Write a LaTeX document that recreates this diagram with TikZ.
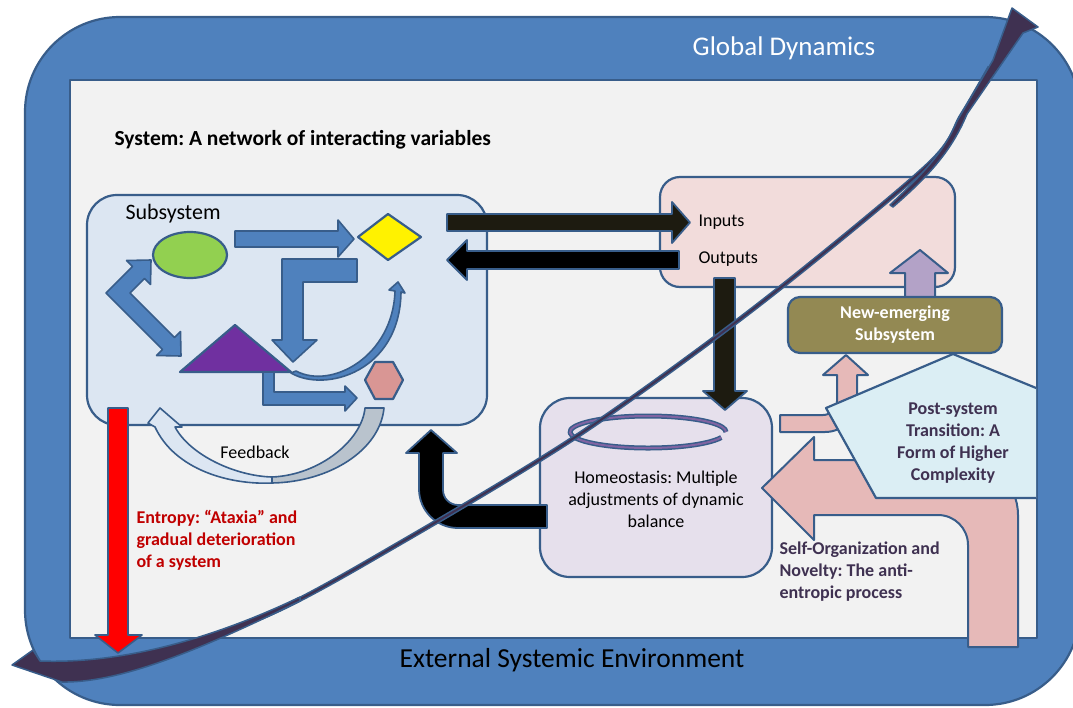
\documentclass[tikz,border=0pt]{standalone}
\usepackage{fontspec}
\setmainfont{Carlito}
\usetikzlibrary{arrows}
\frenchspacing
\definecolor{ringblue}{HTML}{4F81BD}
\definecolor{edgeblue}{HTML}{385D8A}
\definecolor{panel}{HTML}{F2F2F2}
\definecolor{subfill}{HTML}{DCE6F2}
\definecolor{iofill}{HTML}{F2DCDB}
\definecolor{homfill}{HTML}{E6E0EC}
\definecolor{olivebox}{HTML}{938953}
\definecolor{pentfill}{HTML}{DBEEF4}
\definecolor{rose}{HTML}{E6B9B8}
\definecolor{lilac}{HTML}{B3A2C7}
\definecolor{leaf}{HTML}{92D050}
\definecolor{grape}{HTML}{7030A0}
\definecolor{hexpink}{HTML}{D99694}
\definecolor{darkink}{HTML}{1D1B10}
\definecolor{plum}{HTML}{3F3151}
\definecolor{entred}{HTML}{C00000}
\definecolor{fbgrey}{HTML}{B9C3CD}
\definecolor{swoosh}{HTML}{8064A2}

\begin{document}
\begin{tikzpicture}[x=1pt,y=-1pt,line join=round,
  frame/.style={draw=edgeblue,line width=2.2pt},
  blockarrow/.style={fill=ringblue,draw=edgeblue,line width=1.6pt},
  inkarrow/.style={fill=darkink,draw=edgeblue,line width=1.8pt},
  rosearrow/.style={fill=rose,draw=edgeblue,line width=2pt},
  label/.style={font=\fontsize{18}{22}\selectfont,align=center},
  boldlabel/.style={font=\bfseries\fontsize{18}{22}\selectfont,align=center}]
        \useasboundingbox (0,0) rectangle (1073,707);
        \clip (0,0) rectangle (1073,707);
        % environment
        \draw[frame,fill=ringblue,rounded corners=95pt] (25,17) rectangle (1080,705);
        \draw[frame,fill=panel] (70,80) rectangle (1037,638);
        \node[text=white,font=\fontsize{27}{31}\selectfont] (global) at (784,48) {Global Dynamics};
        \node[font=\fontsize{27.5}{32}\selectfont] (external) at (572,660) {External Systemic Environment};
        \node[anchor=west,font=\bfseries\fontsize{21.5}{25}\selectfont] (system) at (111,140) {System: A network of interacting variables};
        % subsystem
        \draw[frame,fill=subfill,rounded corners=30pt] (87,195) rectangle (487,425);
        \node[anchor=west,font=\fontsize{22}{26}\selectfont] (subsys) at (122,214) {Subsystem};
        \draw[frame,fill=leaf] (190,255) ellipse [x radius=37,y radius=23];
        \draw[frame,fill=yellow] (358,237) -- (388,214) -- (421,237) -- (388,260) -- cycle;
        \draw[frame,fill=grape] (180,372) -- (235,325) -- (291,372) -- cycle;
        \draw[frame,fill=hexpink] (365,380) -- (375,362) -- (393,362) -- (403,380) -- (393,399) -- (375,399) -- cycle;
        \draw[blockarrow] (235,231) -- (338,231) -- (338,220) -- (354,239) -- (338,257) -- (338,247) -- (235,247) -- cycle;
        \draw[blockarrow] (282,259) -- (357,259) -- (357,282) -- (303,282) -- (303,340) -- (317,340) -- (293,362) -- (272,340) -- (282,340) -- cycle;
        \draw[blockarrow] (106,293) -- (132.5,266.5) -- (126.5,260.5) -- (151,260) -- (150.5,284.5) -- (144.5,278.5) -- (130,293) -- (174.5,337.5) -- (180.5,331.5) -- (181,356) -- (156.5,355.5) -- (162.5,349.5) -- cycle;
        \draw[blockarrow] (263,372) -- (274,372) -- (274,392) -- (345,392) -- (345,386) -- (357,398) -- (345,411) -- (345,405) -- (263,405) -- cycle;
        \draw[blockarrow] (291,373) .. controls (325,393) and (400,372) .. (401,292) -- (405,293) -- (398,282) -- (389,290) -- (395,291) .. controls (393,356) and (332,390) .. (296,371) -- cycle;
        % inputs and outputs
        \draw[frame,fill=iofill,rounded corners=20pt] (660,177) rectangle (955,287);
        \node[anchor=west,label] (inputs) at (695,222) {Inputs};
        \node[anchor=west,label] (outputs) at (695,259) {Outputs};
        \draw[inkarrow] (447,214) -- (672,214) -- (672,202) -- (690,222.5) -- (672,243) -- (672,231) -- (447,231) -- cycle;
        \draw[inkarrow,fill=black] (679,251) -- (467,251) -- (467,240) -- (447,260) -- (467,280) -- (467,269) -- (679,269) -- cycle;
        % homeostasis
        \draw[frame,fill=homfill,rounded corners=30pt] (540,398) rectangle (772,577);
        \draw[edgeblue,line width=5pt] (648,432) ++(20:78 and 16) arc[start angle=20,end angle=360,x radius=78,y radius=16];
        \draw[swoosh,line width=2pt] (648,432) ++(20:78 and 16) arc[start angle=20,end angle=360,x radius=78,y radius=16];
        \node[label] (homeo) at (656,499) {Homeostasis: Multiple\\adjustments of dynamic\\balance};
        \draw[inkarrow] (714,278) -- (735,278) -- (735,391) -- (747,391) -- (725,410) -- (703,391) -- (714,391) -- cycle;
        \draw[inkarrow,fill=black] (431,430) -- (457,453) -- (443,453) -- (443,490) .. controls (443,498.3) and (449.7,505) .. (458,505) -- (547,505) -- (547,528) -- (458,528) .. controls (436.5,528) and (419,510.5) .. (419,489) -- (419,453) -- (406,453) -- cycle;
        % feedback
        \draw[fill=subfill,draw=edgeblue,line width=1.6pt] (155,427) .. controls (175,470) and (230,485) .. (272,483) -- (272,477) .. controls (235,476) and (190,455) .. (175,427) -- (182,427) -- (160,408) -- (148,423) -- cycle;
        \draw[fill=fbgrey,draw=edgeblue,line width=1.6pt] (272,483) .. controls (330,482) and (380,450) .. (384,408) -- (365,408) .. controls (362,440) and (320,475) .. (272,477) -- cycle;
        \node[label] (feedback) at (255,452) {Feedback};
        % emergence
        \draw[rosearrow] (762,488) -- (814,437) -- (814,460) -- (963,460) .. controls (993.4,460) and (1018,484.6) .. (1018,515) -- (1018,647) -- (968,647) -- (968,545) .. controls (968,528.4) and (954.6,515) .. (938,515) -- (814,515) -- (814,540) -- cycle;
        \draw[rosearrow] (780,415) -- (823,415) .. controls (830.7,415) and (837,408.7) .. (837,401) -- (837,375) -- (823,375) -- (846,355) -- (868,375) -- (857,375) -- (857,400) .. controls (857,417.7) and (842.7,432) .. (825,432) -- (780,432) -- cycle;
        \draw[fill=lilac,draw=edgeblue,line width=2pt] (905,300) -- (905,273) -- (890,273) -- (920,250) -- (948,273) -- (935,273) -- (935,300) -- cycle;
        \draw[frame,fill=olivebox,rounded corners=12pt] (788,297) rectangle (1002,353);
        \node[boldlabel,text=white] (newsub) at (895,325) {New-emerging\\Subsystem};
        \begin{scope}
          \clip (0,0) rectangle (1036,707);
          \draw[frame,fill=pentfill] (953,354) -- (1085,408) -- (1042,498) -- (876,498) -- (826,408) -- cycle;
        \end{scope}
        \node[boldlabel,text=plum] (post) at (953,443) {Post-system\\Transition: A\\Form of Higher\\Complexity};
        \node[boldlabel,text=plum,align=left,anchor=west] (selforg) at (776,572) {Self-Organization and\\Novelty: The anti-\\entropic process};
        % global dynamics curve
        \draw[edgeblue,line width=5pt] plot[smooth] coordinates {(118,665) (267,615) (400,543) (580,434) (757,306) (927,166) (962,115) (990,67)};
        \draw[plum,line width=2pt] plot[smooth] coordinates {(118,665) (267,615) (400,543) (580,434) (757,306) (927,166) (962,115) (990,67)};
        \draw[fill=plum,draw=edgeblue,line width=1.5pt] (12,665) -- (33,650) -- (40,661) .. controls (120,664) and (210,640) .. (300,597) -- (300,601) .. controls (200,650) and (120,683) .. (62,682) -- cycle;
        \draw[fill=plum,draw=edgeblue,line width=1.5pt] (890,205) .. controls (925,172) and (945,150) .. (957,121) -- (993,60) -- (1012,8) -- (1038,27) -- (1023,33) -- (967,114) .. controls (952,150) and (930,175) .. (893,207) -- cycle;
        % entropy
        \draw[fill=red,draw=edgeblue,line width=1.6pt] (108,408) -- (128,408) -- (128,635) -- (142,635) -- (118,653) -- (95,635) -- (108,635) -- cycle;
        \node[boldlabel,text=entred,align=left,anchor=west] (entropy) at (133,540) {Entropy: “Ataxia” and\\gradual deterioration\\of a system};
\end{tikzpicture}
\end{document}
